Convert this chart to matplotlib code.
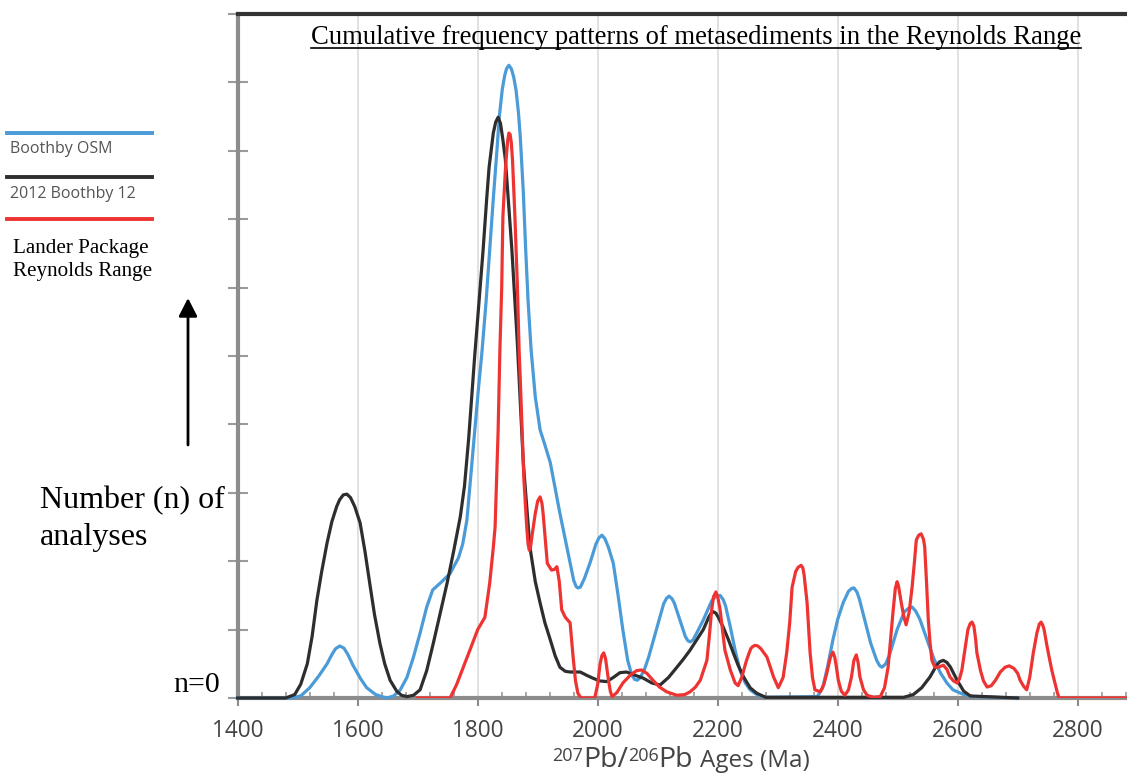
import numpy as np
import matplotlib
matplotlib.use("Agg")
import matplotlib.pyplot as plt
from matplotlib.lines import Line2D

# 207Pb/206Pb ages (Ma) and number of analyses
osm_age = [1400, 1490, 1505, 1520, 1535, 1549, 1556, 1563, 1570, 1577, 1584, 1592, 1605, 1615,
           1630, 1640, 1649, 1660, 1671, 1682, 1693, 1704, 1715, 1725, 1740, 1754, 1768, 1775,
           1782, 1788, 1795, 1801, 1807, 1814, 1820, 1826, 1832, 1836, 1841, 1845, 1848, 1852,
           1856, 1860, 1864, 1868, 1871, 1876, 1880, 1884, 1889, 1896, 1904, 1912, 1921, 1937,
           1954, 1960, 1964, 1967, 1971, 1978, 1987, 1997, 2002, 2007, 2012, 2018, 2026, 2034,
           2042, 2050, 2057, 2062, 2066, 2071, 2078, 2085, 2099, 2110, 2115, 2119, 2124, 2128,
           2137, 2146, 2150, 2154, 2159, 2165, 2176, 2190, 2197, 2204, 2209, 2213, 2221, 2229,
           2237, 2246, 2254, 2265, 2280, 2366, 2375, 2383, 2392, 2400, 2409, 2418, 2423, 2427,
           2432, 2436, 2445, 2455, 2465, 2470, 2474, 2480, 2486, 2499, 2511, 2518, 2524, 2530,
           2537, 2549, 2560, 2571, 2582, 2592, 2610, 2626, 2700]
osm_n = [0, 0, 0.03, 0.15, 0.32, 0.5, 0.62, 0.72, 0.76, 0.73, 0.63, 0.48, 0.28, 0.15,
         0.05, 0.02, 0.0, 0.03, 0.12, 0.3, 0.6, 0.95, 1.33, 1.58, 1.7, 1.82, 2.05, 2.25,
         2.6, 3.2, 3.9, 4.5, 5.05, 5.8, 6.55, 7.3, 8.0, 8.5, 8.9, 9.1, 9.2, 9.25,
         9.2, 9.08, 8.88, 8.55, 8.2, 7.4, 6.55, 5.8, 5.09, 4.4, 3.92, 3.7, 3.44, 2.7,
         1.97, 1.72, 1.63, 1.61, 1.62, 1.75, 1.97, 2.25, 2.34, 2.38, 2.33, 2.2, 1.97, 1.5,
         0.99, 0.55, 0.33, 0.27, 0.26, 0.3, 0.42, 0.6, 1.04, 1.38, 1.46, 1.49, 1.45, 1.38,
         1.14, 0.9, 0.84, 0.82, 0.85, 0.95, 1.14, 1.42, 1.49, 1.5, 1.44, 1.35, 1.04, 0.7,
         0.41, 0.22, 0.12, 0.05, 0.01, 0.02, 0.15, 0.45, 0.85, 1.15, 1.39, 1.56, 1.6, 1.61,
         1.55, 1.45, 1.14, 0.8, 0.55, 0.47, 0.45, 0.5, 0.62, 1.0, 1.26, 1.31, 1.33, 1.27,
         1.15, 0.85, 0.58, 0.37, 0.22, 0.12, 0.05, 0.02, 0.0]

b12_age = [1400, 1480, 1495, 1505, 1516, 1524, 1532, 1540, 1549, 1557, 1565, 1570, 1576, 1582,
           1588, 1595, 1604, 1612, 1620, 1628, 1637, 1645, 1654, 1665, 1673, 1682, 1693, 1704,
           1715, 1726, 1737, 1749, 1760, 1771, 1778, 1785, 1790, 1795, 1800, 1809, 1815, 1819,
           1826, 1830, 1834, 1838, 1842, 1846, 1849, 1857, 1866, 1876, 1887, 1896, 1904, 1912,
           1921, 1929, 1937, 1946, 1954, 1963, 1971, 1982, 1992, 2003, 2015, 2026, 2037, 2048,
           2060, 2076, 2090, 2104, 2118, 2132, 2143, 2154, 2165, 2176, 2185, 2189, 2193, 2197,
           2201, 2209, 2218, 2226, 2234, 2243, 2254, 2265, 2280, 2510, 2526, 2540, 2554, 2565,
           2570, 2576, 2582, 2588, 2599, 2610, 2621, 2700]
b12_n = [0, 0, 0.05, 0.2, 0.5, 0.9, 1.43, 1.85, 2.27, 2.58, 2.8, 2.9, 2.97, 2.98,
         2.93, 2.8, 2.56, 2.15, 1.68, 1.22, 0.8, 0.5, 0.26, 0.1, 0.04, 0.02, 0.04, 0.12,
         0.4, 0.8, 1.22, 1.68, 2.15, 2.65, 3.1, 3.8, 4.4, 5.0, 5.55, 6.55, 7.3, 7.76,
         8.26, 8.42, 8.49, 8.4, 8.16, 7.88, 7.53, 6.55, 5.2, 3.44, 2.21, 1.7, 1.39, 1.1,
         0.85, 0.62, 0.45, 0.39, 0.38, 0.38, 0.38, 0.33, 0.29, 0.25, 0.24, 0.3, 0.37, 0.38,
         0.34, 0.29, 0.22, 0.19, 0.3, 0.45, 0.57, 0.7, 0.85, 1.0, 1.18, 1.24, 1.26, 1.24,
         1.18, 1.04, 0.85, 0.66, 0.48, 0.31, 0.15, 0.07, 0.01, 0.01, 0.05, 0.15, 0.31, 0.48,
         0.53, 0.55, 0.52, 0.45, 0.26, 0.1, 0.03, 0.0]

lander_age = [1699, 1754, 1765, 1776, 1787, 1800, 1812, 1820, 1826, 1829, 1834, 1837, 1840, 1842,
              1846, 1848, 1850, 1852, 1854, 1856, 1858, 1862, 1866, 1869, 1871, 1877, 1882, 1884,
              1886, 1888, 1891, 1896, 1900, 1904, 1907, 1909, 1916, 1923, 1928, 1932, 1936, 1940,
              1946, 1954, 1959, 1963, 1967, 1972, 1995, 2000, 2004, 2007, 2010, 2013, 2015, 2018,
              2021, 2024, 2032, 2042, 2055, 2065, 2073, 2082, 2092, 2103, 2115, 2132, 2145, 2154,
              2163, 2171, 2182, 2186, 2190, 2193, 2197, 2200, 2204, 2208, 2212, 2221, 2229, 2234,
              2240, 2248, 2255, 2258, 2262, 2267, 2272, 2282, 2293, 2301, 2309, 2315, 2320, 2324,
              2330, 2334, 2339, 2342, 2344, 2349, 2354, 2358, 2362, 2371, 2377, 2382, 2388, 2392,
              2395, 2397, 2401, 2406, 2412, 2418, 2423, 2427, 2431, 2434, 2437, 2443, 2449, 2460,
              2471, 2478, 2484, 2488, 2492, 2496, 2499, 2501, 2503, 2506, 2510, 2514, 2519, 2524,
              2528, 2531, 2535, 2539, 2543, 2545, 2548, 2551, 2554, 2557, 2562, 2568, 2576, 2582,
              2587, 2593, 2599, 2603, 2607, 2612, 2617, 2621, 2624, 2627, 2630, 2632, 2638, 2643,
              2649, 2656, 2663, 2671, 2679, 2686, 2694, 2700, 2704, 2710, 2715, 2720, 2726, 2732,
              2736, 2739, 2742, 2744, 2748, 2751, 2757, 2762, 2766, 2769, 2900]
lander_n = [0, 0, 0.2, 0.45, 0.7, 1.0, 1.18, 1.68, 2.2, 2.5, 3.9, 5.09, 6.0, 7.04,
            7.7, 7.95, 8.15, 8.26, 8.24, 8.12, 7.87, 7.04, 6.06, 5.09, 4.65, 3.19, 2.46, 2.25,
            2.16, 2.2, 2.4, 2.7, 2.88, 2.94, 2.85, 2.7, 1.97, 1.87, 1.88, 1.92, 1.7, 1.29,
            1.18, 1.1, 0.6, 0.25, 0.07, 0.0, 0.0, 0.2, 0.5, 0.62, 0.66, 0.58, 0.45, 0.26,
            0.1, 0.02, 0.08, 0.22, 0.34, 0.4, 0.41, 0.36, 0.26, 0.16, 0.09, 0.04, 0.05, 0.09,
            0.16, 0.26, 0.55, 0.9, 1.29, 1.48, 1.55, 1.48, 1.29, 1.0, 0.7, 0.41, 0.22, 0.18,
            0.3, 0.55, 0.72, 0.75, 0.77, 0.76, 0.72, 0.6, 0.31, 0.15, 0.3, 0.66, 1.1, 1.62,
            1.85, 1.91, 1.94, 1.9, 1.8, 1.39, 0.66, 0.3, 0.12, 0.09, 0.2, 0.37, 0.6, 0.67,
            0.6, 0.5, 0.26, 0.1, 0.04, 0.12, 0.31, 0.55, 0.63, 0.52, 0.31, 0.12, 0.04, 0.01,
            0.02, 0.15, 0.45, 0.85, 1.24, 1.6, 1.7, 1.65, 1.55, 1.39, 1.2, 1.07, 1.25, 1.62,
            2.0, 2.31, 2.38, 2.4, 2.32, 2.21, 1.7, 1.14, 0.8, 0.55, 0.45, 0.45, 0.48, 0.42,
            0.31, 0.25, 0.22, 0.28, 0.41, 0.7, 1.0, 1.09, 1.11, 1.05, 0.85, 0.66, 0.4, 0.25,
            0.16, 0.18, 0.26, 0.38, 0.45, 0.47, 0.43, 0.36, 0.26, 0.17, 0.12, 0.3, 0.66, 0.95,
            1.08, 1.11, 1.06, 1.0, 0.8, 0.66, 0.4, 0.22, 0.08, 0.0, 0.0]

series_names = ["Boothby OSM", "2012 Boothby 12", "Lander Package\nReynolds Range"]
colors = ["#4a9bd7", "#2e2e2e", "#ee3432"]
x_ticks = [1400, 1600, 1800, 2000, 2200, 2400, 2600, 2800]

W, H = 1127, 780
fig = plt.figure(figsize=(W / 100, H / 100), dpi=100)
ax = fig.add_axes([237.7 / W, 1 - 698 / H, 1 - 237.7 / W, (698 - 14) / H])

def fx(x):
    return x / W

def fy(y):
    return 1 - y / H

for xg in x_ticks[1:]:
    ax.axvline(xg, color="#dedede", lw=1.3, zorder=0)

ax.plot(osm_age, osm_n, color=colors[0], lw=2.3, clip_on=False, zorder=3, solid_joinstyle="round")
ax.plot(b12_age, b12_n, color=colors[1], lw=2.3, clip_on=False, zorder=3, solid_joinstyle="round")
ax.plot(lander_age, lander_n, color=colors[2], lw=2.3, zorder=4, solid_joinstyle="round")

ax.set_xlim(1400, 1400 + (W - 237.7) * 200 / 120)
ax.set_ylim(0, 10)
ax.set_xticks(x_ticks)
ax.set_xticks(np.arange(1400, 2900, 40), minor=True)
ax.set_yticks(range(0, 11))
ax.set_yticklabels([])
ax.tick_params(axis="x", which="major", direction="out", length=6, width=1.5,
               color="#8c8c8c", labelsize=16.3, labelcolor="#444444", pad=9)
ax.tick_params(axis="x", which="minor", direction="in", length=4, width=1.2, color="#9a9a9a")
ax.tick_params(axis="y", which="major", direction="inout", length=14, width=1.5, color="#9a9a9a")
for lab in ax.get_xticklabels():
    lab.set_fontfamily("Open Sans")

for side in ["left", "bottom"]:
    ax.spines[side].set_color("#8c8c8c")
    ax.spines[side].set_linewidth(3)
ax.spines["top"].set_color("#333333")
ax.spines["top"].set_linewidth(3)
ax.spines["right"].set_visible(False)

# title, underlined
title = fig.text(fx(696), fy(44), "Cumulative frequency patterns of metasediments in the Reynolds Range",
                 family="Liberation Serif", fontsize=19.2, ha="center", va="baseline")

# y axis annotation
fig.text(fx(40), fy(508), "Number (n) of", family="Liberation Serif", fontsize=23, va="baseline")
fig.text(fx(40), fy(545), "analyses", family="Liberation Serif", fontsize=23, va="baseline")
fig.text(fx(220), fy(692), "n=0", family="Liberation Serif", fontsize=21.5, va="baseline", ha="right")
ax.annotate("", xy=(fx(188), fy(298)), xytext=(fx(188), fy(445)), xycoords="figure fraction",
            textcoords="figure fraction",
            arrowprops=dict(arrowstyle="-|>,head_length=0.55,head_width=0.28", mutation_scale=20,
                            lw=2, color="black", shrinkA=0, shrinkB=0))

# legend
leg_y = [133, 177, 219]
for yy, c in zip(leg_y, colors):
    fig.add_artist(Line2D([fx(7), fx(152)], [fy(yy), fy(yy)], color=c, lw=2.8))
fig.text(fx(10), fy(153), series_names[0], family="Open Sans", fontsize=11.5, color="#555555", va="baseline")
fig.text(fx(10), fy(198), series_names[1], family="Open Sans", fontsize=11.5, color="#555555", va="baseline")
l1, l2 = series_names[2].split("\n")
fig.text(fx(13), fy(253), l1, family="Liberation Serif", fontsize=15.2, va="baseline")
fig.text(fx(13), fy(276), l2, family="Liberation Serif", fontsize=15.2, va="baseline")

# x axis label built from pieces of different sizes
pieces = [("207", 13, 761), ("Pb/", 20.5, 767), ("206", 13, 761), ("Pb", 20.5, 767), ("Ages (Ma)", 17.5, 767)]
fig.canvas.draw()
renderer = fig.canvas.get_renderer()
xpos = 552
for txt, size, base in pieces:
    if txt.startswith("Ages"):
        xpos += 7
    t = fig.text(fx(xpos), fy(base), txt, family="Open Sans", fontsize=size, color="#444444",
                 va="baseline", ha="left")
    xpos += t.get_window_extent(renderer).width

bb = title.get_window_extent(renderer)
fig.add_artist(Line2D([bb.x0 / W, bb.x1 / W], [fy(48), fy(48)], color="black", lw=1.2))

fig.savefig("out.png", dpi=100)
